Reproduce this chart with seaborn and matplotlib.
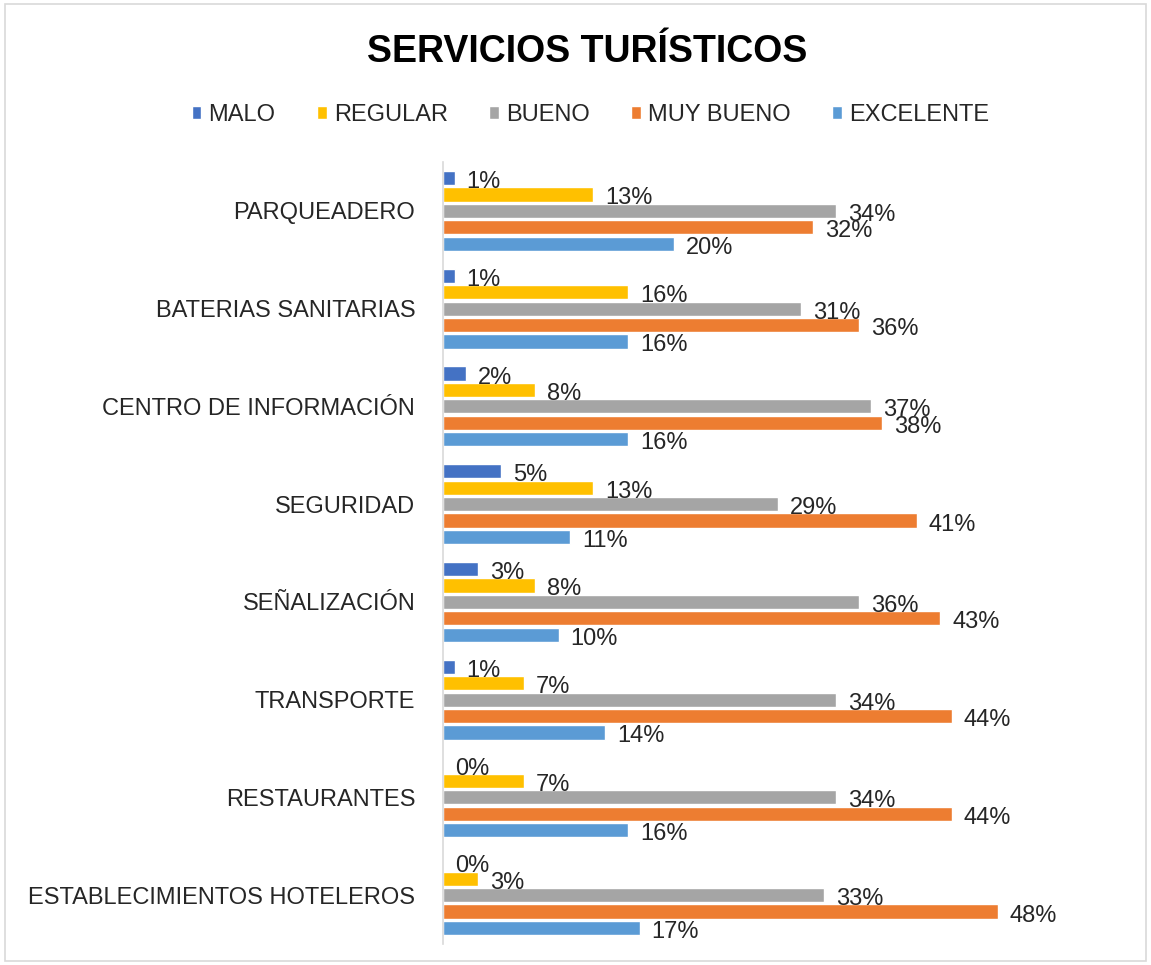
import matplotlib
matplotlib.use("Agg")
import matplotlib.pyplot as plt
import seaborn as sns
import pandas as pd
from matplotlib.patches import Rectangle

categories = ["PARQUEADERO", "BATERIAS SANITARIAS", "CENTRO DE INFORMACIÓN", "SEGURIDAD",
              "SEÑALIZACIÓN", "TRANSPORTE", "RESTAURANTES", "ESTABLECIMIENTOS HOTELEROS"]
series = ["MALO", "REGULAR", "BUENO", "MUY BUENO", "EXCELENTE"]
malo = [1, 1, 2, 5, 3, 1, 0, 0]
regular = [13, 16, 8, 13, 8, 7, 7, 3]
bueno = [34, 31, 37, 29, 36, 34, 34, 33]
muy_bueno = [32, 36, 38, 41, 43, 44, 44, 48]
excelente = [20, 16, 16, 11, 10, 14, 16, 17]
colors = ["#4472C4", "#FFC000", "#A5A5A5", "#ED7D31", "#5B9BD5"]

rows = []
for s, vals in zip(series, [malo, regular, bueno, muy_bueno, excelente]):
    for c, v in zip(categories, vals):
        rows.append({"cat": c, "serie": s, "val": v})
df = pd.DataFrame(rows)

sns.set_theme(style="white")
plt.rcParams["font.family"] = ["Liberation Sans", "DejaVu Sans"]

txt_color = "#262626"
fs = 17

fig = plt.figure(figsize=(11.51, 9.65), dpi=100)
ax = fig.add_axes([443 / 1151, 21 / 965, 667 / 1151, 782 / 965])

sns.barplot(data=df, y="cat", x="val", hue="serie", order=categories, hue_order=series,
            palette=colors, orient="h", width=0.84, gap=0.14, ax=ax, saturation=1,
            legend=True, errorbar=None)

ax.set_xlim(0, 667 / 11.56)
ax.set_ylim(7.5, -0.5)
ax.set_xlabel("")
ax.set_ylabel("")
ax.set_xticks([])
for sp in ["top", "right", "bottom"]:
    ax.spines[sp].set_visible(False)
ax.spines["left"].set_color("#D9D9D9")
ax.spines["left"].set_linewidth(1.2)
ax.tick_params(axis="y", length=0, pad=20, labelsize=fs, labelcolor=txt_color)

for cont in ax.containers:
    for p in cont.patches:
        w = p.get_width()
        yc = p.get_y() + p.get_height() / 2
        ax.annotate(f"{w:.0f}%", xy=(w, yc), xytext=(12, -4), textcoords="offset pixels",
                    ha="left", va="center", fontsize=fs, color=txt_color)

handles, labels = ax.get_legend_handles_labels()
ax.get_legend().remove()
fig.legend(handles, labels, loc="center", bbox_to_anchor=(0.513, 1 - 115 / 965), ncol=5,
           frameon=False, fontsize=fs, handlelength=0.42, handleheight=0.42,
           handletextpad=0.3, columnspacing=1.75, labelcolor=txt_color)

fig.text(0.51, 1 - 52 / 965, "SERVICIOS TURÍSTICOS", ha="center", va="center",
         fontsize=27, fontweight="bold", color="black")

fig.patches.append(Rectangle((0.004, 0.004), 0.992, 0.992, transform=fig.transFigure,
                             fill=False, edgecolor="#D9D9D9", linewidth=1.2))

fig.savefig("out.png", dpi=100)
